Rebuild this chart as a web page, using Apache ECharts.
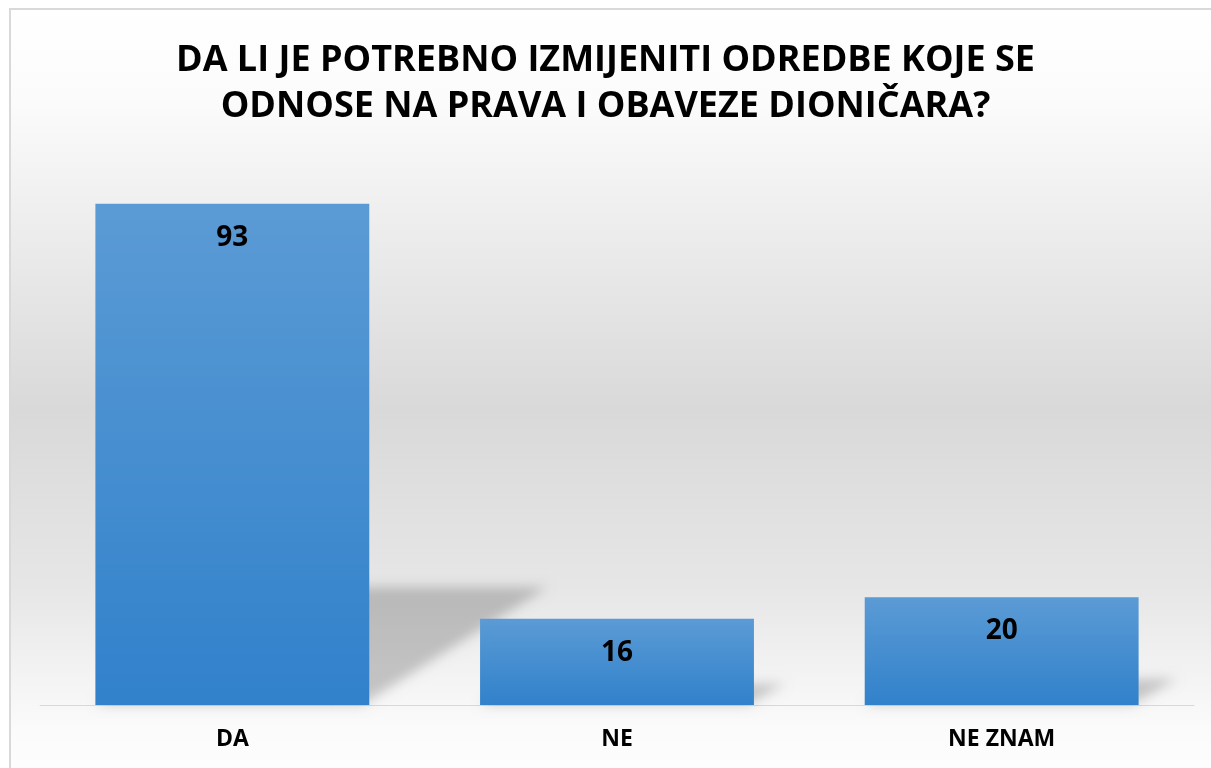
<!DOCTYPE html>
<html>
<head>
<meta charset="utf-8">
<script src="https://cdn.jsdelivr.net/npm/echarts@6/dist/echarts.min.js"></script>
<style>
html,body{margin:0;padding:0;background:#fff;}
#chart{width:1211px;height:768px;}
</style>
</head>
<body>
<div id="chart"></div>
<script>
const titleText = 'DA LI JE POTREBNO IZMIJENITI ODREDBE KOJE SE\nODNOSE NA PRAVA I OBAVEZE DIONIČARA?';
const categories = ['DA', 'NE', 'NE ZNAM'];
const values = [93, 16, 20];

const FONT = '"Open Sans", "Noto Sans", sans-serif';
const BAR_FRAC = 0.712;
const OFF = 3000;

const chart = echarts.init(document.getElementById('chart'), null, {renderer: 'canvas'});

const option = {
  backgroundColor: '#ffffff',
  animation: false,
  graphic: [
    {
      type: 'rect', z: -10, silent: true,
      shape: {x: 10, y: 9, width: 1230, height: 800},
      style: {
        fill: new echarts.graphic.LinearGradient(0, 0, 0, 1, [
          {offset: 0, color: '#ffffff'},
          {offset: 0.12, color: '#fbfbfb'},
          {offset: 0.25, color: '#efefef'},
          {offset: 0.5, color: '#d9d9d9'},
          {offset: 0.72, color: '#e6e6e6'},
          {offset: 0.9, color: '#fbfbfb'},
          {offset: 1, color: '#ffffff'}
        ]),
        stroke: '#d9d9d9', lineWidth: 2
      }
    }
  ],
  title: {
    text: titleText,
    left: 'center',
    top: 33,
    textStyle: {
      fontFamily: FONT, fontWeight: 'bold', fontSize: 36, color: '#000',
      lineHeight: 46
    }
  },
  grid: {left: 40, right: 17, top: 166, bottom: 63, containLabel: false},
  xAxis: {
    type: 'category',
    data: categories,
    axisLine: {show: true, lineStyle: {color: '#d9d9d9', width: 1}},
    axisTick: {show: false},
    axisLabel: {
      margin: 23, color: '#000', fontFamily: FONT, fontWeight: 'bold', fontSize: 23
    }
  },
  yAxis: {
    type: 'value', min: 0, max: 100, interval: 20,
    show: false,
    splitLine: {show: false}
  },
  series: [
    {
      type: 'custom',
      z: 1,
      silent: true,
      clip: false,
      data: values.map((v, i) => [i, v]),
      renderItem: function (params, api) {
        const idx = api.value(0);
        const val = api.value(1);
        const base = api.coord([idx, 0]);
        const top = api.coord([idx, val]);
        const bw = api.size([1, 0])[0] * BAR_FRAC;
        const xl = base[0] - bw / 2 - OFF;
        const xr = base[0] + bw / 2 - OFF;
        const h = base[1] - top[1];
        const dx = 0.355 * h, dy = 0.233 * h;
        const y0 = base[1] - 1;
        return {
          type: 'polygon',
          shape: {points: [[xl, y0], [xr - 6, y0], [xr + dx, y0 - dy], [xl + dx, y0 - dy]]},
          style: {
            fill: '#000',
            shadowBlur: 12,
            shadowOffsetX: OFF,
            shadowColor: 'rgba(0,0,0,0.2)'
          }
        };
      }
    },
    {
      type: 'bar',
      z: 2,
      data: values,
      barWidth: (BAR_FRAC * 100) + '%',
      itemStyle: {
        color: new echarts.graphic.LinearGradient(0, 0, 0, 1, [
          {offset: 0, color: '#5b9bd5'},
          {offset: 1, color: '#3181cb'}
        ])
      },
      label: {
        show: true,
        position: 'insideTop',
        distance: 20,
        color: '#000',
        fontFamily: FONT,
        fontWeight: 'bold',
        fontSize: 28
      }
    }
  ]
};
chart.setOption(option);
</script>
</body>
</html>
